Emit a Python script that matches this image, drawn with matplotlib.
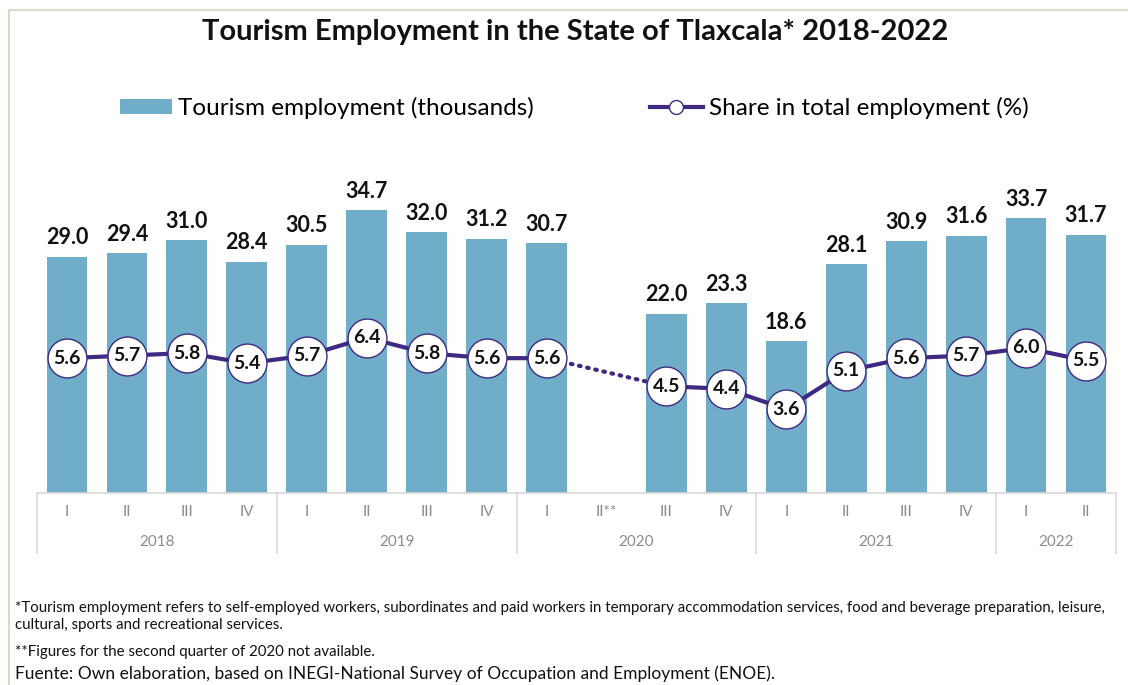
import matplotlib
matplotlib.use("Agg")
import matplotlib.pyplot as plt
import matplotlib.transforms as mtransforms
from matplotlib.lines import Line2D
from matplotlib.patches import Patch
import numpy as np

plt.rcParams['font.family'] = ['Lato', 'DejaVu Sans']

# Quarterly data, 2018-I .. 2022-II (2020-II not available)
quarters = ['I', 'II', 'III', 'IV', 'I', 'II', 'III', 'IV', 'I', 'II**',
            'III', 'IV', 'I', 'II', 'III', 'IV', 'I', 'II']
years = ['2018', '2019', '2020', '2021', '2022']
year_sizes = [4, 4, 4, 4, 2]
employment = [29.0, 29.4, 31.0, 28.4, 30.5, 34.7, 32.0, 31.2, 30.7, np.nan,
              22.0, 23.3, 18.6, 28.1, 30.9, 31.6, 33.7, 31.7]
share = [5.6, 5.7, 5.8, 5.4, 5.7, 6.4, 5.8, 5.6, 5.6, np.nan,
         4.5, 4.4, 3.6, 5.1, 5.6, 5.7, 6.0, 5.5]

BAR_COLOR = '#6FADC8'
LINE_COLOR = '#3E2A82'
GRAY = '#8C8C8C'

fig = plt.figure(figsize=(11.28, 6.85), dpi=100)
ax = fig.add_axes([37 / 1128, 1 - 493 / 685, (1116 - 37) / 1128, 343 / 685])
ax2 = ax.twinx()

x = np.arange(len(quarters))
emp = np.array(employment)
shr = np.array(share)

# bars
ax.bar(x, emp, width=0.68, color=BAR_COLOR, zorder=2)
for xi, v in zip(x, emp):
    if np.isnan(v):
        continue
    ax.annotate(f'{v:.1f}', xy=(xi, v), xytext=(0, 6), textcoords='offset points',
                ha='center', va='bottom', fontsize=15.5, fontweight='bold', color='#111111')
ax.set_ylim(0, 42.1)
ax.set_xlim(-0.5, len(quarters) - 0.5)

# share line: solid where consecutive, dotted across the missing quarter
gap = int(np.where(np.isnan(shr))[0][0])
ax2.plot(x[:gap], shr[:gap], color=LINE_COLOR, lw=3, zorder=3)
ax2.plot(x[gap + 1:], shr[gap + 1:], color=LINE_COLOR, lw=3, zorder=3)
ax2.plot([x[gap - 1], x[gap + 1]], [shr[gap - 1], shr[gap + 1]], color=LINE_COLOR,
         lw=3, linestyle=(0, (0.4, 1.6)), dash_capstyle='round', zorder=3)
ax2.plot(x, shr, linestyle='none', marker='o', markersize=28, markerfacecolor='white',
         markeredgecolor=LINE_COLOR, markeredgewidth=1.0, zorder=4)
for xi, v in zip(x, shr):
    if np.isnan(v):
        continue
    ax2.text(xi, v, f'{v:.1f}', ha='center', va='center', fontsize=14,
             fontweight='bold', color='#111111', zorder=5)
ax2.set_ylim(0.32, 13.75)

for a in (ax, ax2):
    for side in ('top', 'right', 'left'):
        a.spines[side].set_visible(False)
    a.set_yticks([])
ax.spines['bottom'].set_color('#D9D9D9')
ax.spines['bottom'].set_linewidth(1.2)
ax2.spines['bottom'].set_visible(False)

# two-level category axis
ax.set_xticks(x)
ax.set_xticklabels(quarters, fontsize=11, color=GRAY)
ax.tick_params(axis='x', length=0, pad=9)
trans = mtransforms.blended_transform_factory(ax.transData, ax.transAxes)
edges = np.concatenate([[0], np.cumsum(year_sizes)]) - 0.5
for e in edges:
    ax.plot([e, e], [0, -0.175], transform=trans, color='#D9D9D9', lw=1.2, clip_on=False)
for yr, lo, hi in zip(years, edges[:-1], edges[1:]):
    ax.text((lo + hi) / 2, -0.143, yr, transform=trans, ha='center', va='center',
            fontsize=11, color=GRAY)

# title and legend
fig.text(575 / 1128, 1 - 32 / 685, 'Tourism Employment in the State of Tlaxcala* 2018-2022',
         ha='center', va='center', fontsize=21, fontweight='bold', color='#111111')
handles = [Patch(facecolor=BAR_COLOR, edgecolor='none'),
           Line2D([0], [0], color=LINE_COLOR, lw=3, marker='o', markersize=10,
                  markerfacecolor='white', markeredgecolor=LINE_COLOR, markeredgewidth=1)]
fig.legend(handles, ['Tourism employment (thousands)', 'Share in total employment (%)'],
           loc='center', bbox_to_anchor=(574 / 1128, 1 - 108 / 685), ncol=2, frameon=False,
           fontsize=17.5, handlelength=2.15, handleheight=0.6, columnspacing=4.8,
           handletextpad=0.25)

# footnotes
notes = [
    (608, 10.8, '*Tourism employment refers to self-employed workers, subordinates and paid '
                'workers in temporary accommodation services, food and beverage preparation, leisure,'),
    (625, 10.8, 'cultural, sports and recreational services.'),
    (652, 10.8, '**Figures for the second quarter of 2020 not available.'),
    (674, 12.5, 'Fuente: Own elaboration, based on INEGI-National Survey of Occupation and '
                'Employment (ENOE).'),
]
for ypx, fs, txt in notes:
    fig.text(15 / 1128, 1 - ypx / 685, txt, ha='left', va='center', fontsize=fs, color='#111111')

# outer chart border (left and top)
fig.add_artist(Line2D([9 / 1128, 9 / 1128, 1.0], [0.0, 1 - 10 / 685, 1 - 10 / 685],
                      transform=fig.transFigure, color='#DDD8C6', lw=1.5))

fig.savefig('out.png', dpi=100)
plt.close(fig)
